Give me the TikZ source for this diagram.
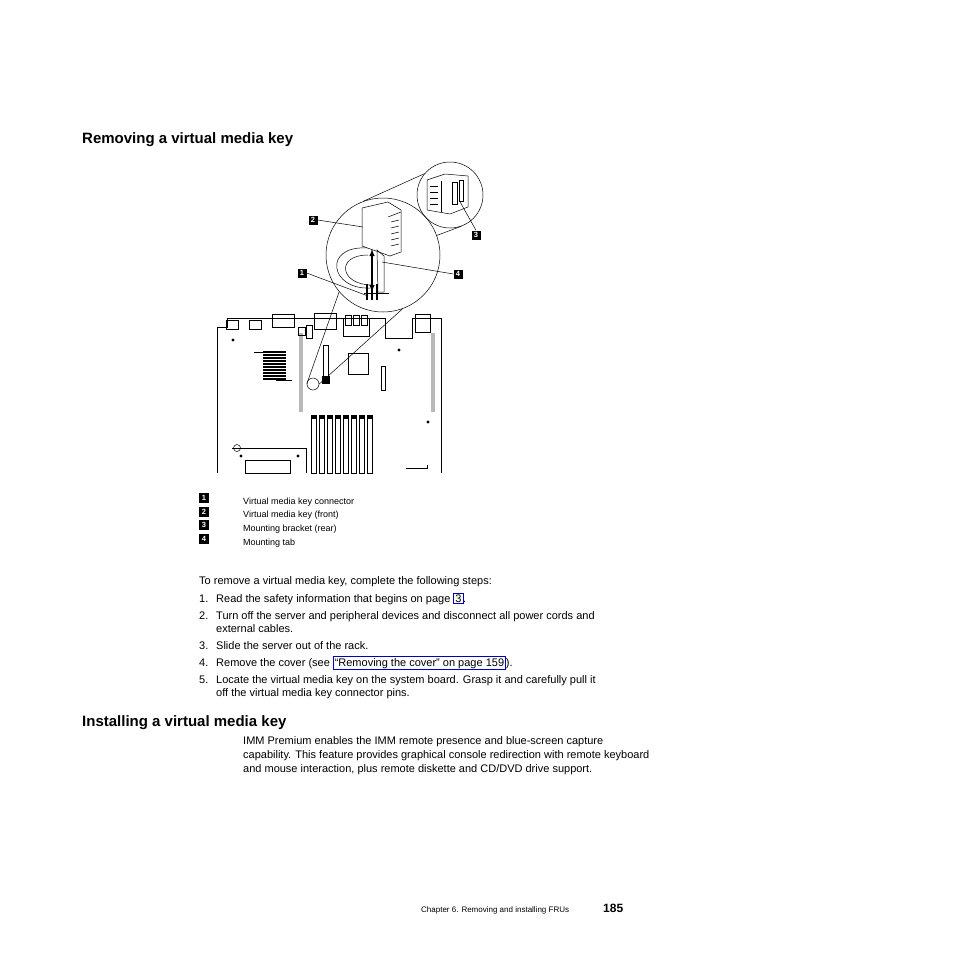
\documentclass[tikz,border=0pt]{standalone}
\usepackage{fontspec}
\setmainfont{Liberation Sans}
\usetikzlibrary{calc}
\usetikzlibrary{positioning}

\tikzset{
  txt/.style={anchor=base west, inner sep=0pt, font=\fontsize{11}{13}\selectfont},
  head/.style={anchor=base west, inner sep=0pt, font=\fontsize{15}{17}\selectfont\bfseries},
  legtxt/.style={anchor=base west, inner sep=0pt, font=\fontsize{9}{11}\selectfont},
  callout/.style={fill=black, text=white, inner sep=0pt, minimum size=9pt, font=\fontsize{7.5}{8}\selectfont\bfseries},
  thinline/.style={line width=0.5pt},
  linkbox/.style={draw=blue!70!black, line width=0.6pt, inner sep=1.5pt}
}

\begin{document}
\begin{tikzpicture}[x=1pt,y=-1pt]
  \useasboundingbox (0,0) rectangle (954,954);

  % headings and text
  \node[head] (h1) at (82,143) {Removing a virtual media key};

  % ---- illustration ----
  % system board outline
  \draw[thinline] (217,473) -- (217,327) -- (227,327) -- (227,318) -- (385,318)
    -- (385,338) -- (412,338) -- (412,318) -- (441,318) -- (441,473);
  % top connectors
  \foreach \x in {226,249} \draw[thinline] (\x,320) rectangle ++(12,9);
  \draw[thinline] (272,314) rectangle (294,327);
  \draw[thinline] (314,313) rectangle (336,329);
  \foreach \x in {345,353,361} \draw[thinline] (\x,315) rectangle ++(6,10);
  \draw[thinline] (343,318) rectangle (369,336);
  \draw[thinline] (415,314) rectangle (430,332);
  % riser strips
  \fill[gray!55] (299,333) rectangle (303,412);
  \fill[gray!55] (431,333) rectangle (435,412);
  \draw[thinline] (298,327) rectangle (305,335);
  % chips
  \draw[thinline] (348,353) rectangle (368,374);
  \draw[thinline] (381,366) rectangle (385,390);
  \draw[thinline] (323,345) rectangle (328,383);
  \draw[thinline] (306,325) rectangle (312,338);
  \fill (322,376) rectangle (330,384);
  % heat sink fins
  \foreach \y in {352,355,...,379} \draw[line width=1.1pt] (263,\y) -- (286,\y);
  \draw[thinline] (254,352) -- (280,352);
  \draw[thinline] (276,380) -- (292,380);
  % dimm slots
  \foreach \x in {311,319,...,367} {
    \draw[thinline] (\x,415) rectangle ++(5,58);
    \fill (\x,415) rectangle ++(5,4);
  }
  % processor socket
  \draw[thinline] (232,448) -- (306,448) -- (306,473);
  \draw[thinline] (245,460) rectangle (290,473);
  \draw[thinline] (237,448) circle (3.5);
  \foreach \p in {(241,456),(298,456),(233,340),(399,350),(428,422)} \fill \p circle (1.6);
  \draw[thinline] (406,468) -- (427,468) -- (427,465);
  % small circle on board
  \node[draw, circle, thinline, minimum size=12pt, inner sep=0pt] (spot) at (313,384) {};
  % magnified view
  \node[draw, circle, thinline, minimum size=114pt, inner sep=0pt] (mag) at (383,255) {};
  \node[draw, circle, thinline, minimum size=66pt, inner sep=0pt] (rear) at (450,195) {};
  \draw[thinline] (spot.west) -- (mag.220);
  \draw[thinline] (spot.east) -- (mag.290);
  \draw[thinline] (mag.110) -- (rear.140);
  \draw[thinline] (mag.20) -- (rear.290);
  % cable loop
  \draw[thinline] (370,288) .. controls (330,290) and (322,245) .. (368,248);
  \draw[thinline] (372,285) .. controls (340,285) and (335,255) .. (368,255);
  % key (front)
  \coordinate (keytop) at (372,246);
  \draw[thinline, fill=white] (362,208) -- (388,202) -- (401,210) -- (401,252) -- (390,256) -- (362,246) -- cycle;
  \draw[thinline] (388,217) -- (401,212);
  \foreach \y in {222,228,...,246} \draw[thinline] (391,\y) -- (399,\y-2);
  % mounting tab
  \draw[thinline] (377,250) -- (384,256) -- (384,292) -- (378,292) -- cycle;
  % connector pins
  \draw[thinline] (364,293) -- (389,293);
  \foreach \x in {367,372,377} \draw[line width=1.2pt] (\x,284) -- (\x,300);
  \coordinate (pins) at (368,296);
  % removal arrow
  \draw[line width=1.4pt, <->, >=latex] (372,249) -- (372,292);
  % rear view key
  \draw[thinline] (427,180) -- (445,174) -- (468,176) -- (468,207) -- (450,214) -- (427,210) -- cycle;
  \draw[thinline] (441,181) -- (441,212);
  \draw[thinline] (452,182) rectangle (457,204);
  \draw[thinline] (459,180) rectangle (463,201);
  \foreach \y in {186,192,...,206} \draw[thinline] (430,\y) -- (438,\y);
  % callouts
  \node[callout] (c2) at (313,220) {2};
  \node[callout] (c1) at (302,273) {1};
  \node[callout] (c3) at (476,235) {3};
  \node[callout] (c4) at (458,274) {4};
  \draw[thinline] (c2.east) -- (363,227);
  \draw[thinline] (c1.east) -- (pins);
  \draw[thinline] (c3.north) -- (459,200);
  \draw[thinline] (c4.west) -- (382,262);

  % legend
  \foreach \n/\t [count=\i] in {1/Virtual media key connector, 2/Virtual media key (front),
      3/Mounting bracket (rear), 4/Mounting tab} {
    \node[callout, minimum size=10pt] (l\n) at (204,{501+13.7*(\i-1)-3}) {\n};
    \node[legtxt] (lt\n) at (243,{501+13.7*(\i-1)+3}) {\t};
  }

  % steps
  \node[txt] (intro) at (199,584) {To remove a virtual media key, complete the following steps:};
  \node[txt] (n1) at (199,602) {1.};
  \node[txt] (s1) at (216,602) {Read the safety information that begins on page \tikz[baseline]\node[linkbox, anchor=base]{3};.};
  \node[txt] (n2) at (199,619) {2.};
  \node[txt] (s2) at (216,619) {Turn off the server and peripheral devices and disconnect all power cords and};
  \node[txt] (s2b) at (216,632) {external cables.};
  \node[txt] (n3) at (199,649) {3.};
  \node[txt] (s3) at (216,649) {Slide the server out of the rack.};
  \node[txt] (n4) at (199,666) {4.};
  \node[txt] (s4) at (216,666) {Remove the cover (see \tikz[baseline]\node[linkbox, anchor=base]{“Removing the cover” on page 159};).};
  \node[txt] (n5) at (199,683) {5.};
  \node[txt] (s5) at (216,683) {Locate the virtual media key on the system board. Grasp it and carefully pull it};
  \node[txt] (s5b) at (216,696) {off the virtual media key connector pins.};

  \node[head] (h2) at (82,726) {Installing a virtual media key};
  \node[txt] (p1) at (243,744) {IMM Premium enables the IMM remote presence and blue-screen capture};
  \node[txt] (p2) at (243,758) {capability. This feature provides graphical console redirection with remote keyboard};
  \node[txt] (p3) at (243,772) {and mouse interaction, plus remote diskette and CD/DVD drive support.};

  % footer
  \node[anchor=base west, inner sep=0pt, font=\fontsize{8}{9}\selectfont] (foot) at (421,912) {Chapter 6. Removing and installing FRUs};
  \node[anchor=base west, inner sep=0pt, font=\fontsize{12}{13}\selectfont\bfseries] (pg) at (603,912) {185};
\end{tikzpicture}
\end{document}
